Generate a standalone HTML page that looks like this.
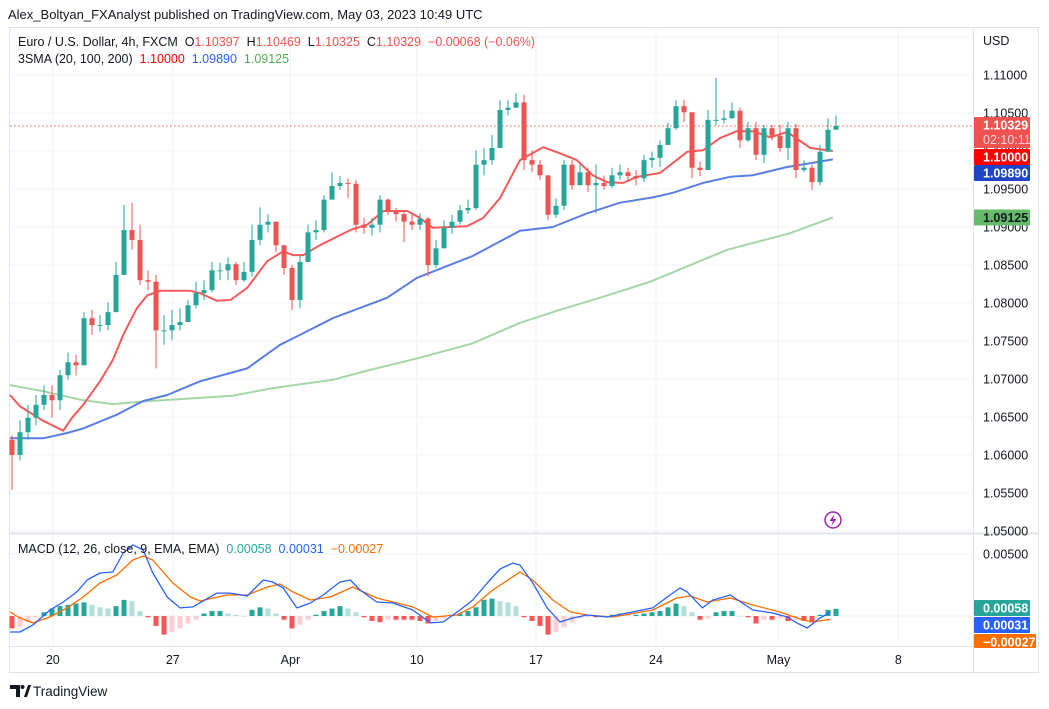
<!DOCTYPE html>
<html><head><meta charset="utf-8"><style>
html,body{margin:0;padding:0;background:#fff;}
svg{display:block;font-family:"Liberation Sans",sans-serif;}
</style></head><body>
<svg id="chart" width="1049" height="709" viewBox="0 0 1049 709" xmlns="http://www.w3.org/2000/svg">
<text x="8" y="19" font-size="13" fill="#131722">Alex_Boltyan_FXAnalyst published on TradingView.com, May 03, 2023 10:49 UTC</text>
<rect x="9.5" y="27.5" width="1029" height="645" fill="#fff" stroke="#e0e3eb"/>
<g id="grid"></g>
<g id="mainPane"></g>
<g id="macdPane"></g>
<line x1="973.5" y1="28" x2="973.5" y2="672" stroke="#e0e3eb"/>
<line x1="10" y1="533.5" x2="1038" y2="533.5" stroke="#e0e3eb" stroke-width="2"/>
<line x1="10" y1="646.5" x2="1038" y2="646.5" stroke="#e0e3eb"/>
<g id="axes" font-size="12.5" fill="#131722"></g>
<text x="18" y="46" font-size="12.5" fill="#131722">Euro / U.S. Dollar, 4h, FXCM&#160;&#160;<tspan>O</tspan><tspan fill="#ef5350">1.10397</tspan>&#160;&#160;<tspan>H</tspan><tspan fill="#ef5350">1.10469</tspan>&#160;&#160;<tspan>L</tspan><tspan fill="#ef5350">1.10325</tspan>&#160;&#160;<tspan>C</tspan><tspan fill="#ef5350">1.10329</tspan>&#160;&#160;<tspan fill="#ef5350">−0.00068 (−0.06%)</tspan></text>
<text x="18" y="63" font-size="12.5" fill="#131722">3SMA (20, 100, 200)&#160;&#160;<tspan fill="#ff0000">1.10000</tspan>&#160;&#160;<tspan fill="#2962ff">1.09890</tspan>&#160;&#160;<tspan fill="#4caf50">1.09125</tspan></text>
<text x="18" y="553" font-size="12.5" fill="#131722">MACD (12, 26, close, 9, EMA, EMA)&#160;&#160;<tspan fill="#26a69a">0.00058</tspan>&#160;&#160;<tspan fill="#2962ff">0.00031</tspan>&#160;&#160;<tspan fill="#ff6d00">−0.00027</tspan></text>
<g><circle cx="833" cy="520" r="8" fill="none" stroke="#9c27b0" stroke-width="1.5"/><path d="M834.5 514 L829.5 521 H833 L831.5 526 L836.5 519 H833 Z" fill="#9c27b0"/></g>
<g><path d="M10 685 H20 V697 H16 V689 H10 Z" fill="#131722"/><circle cx="22.5" cy="687" r="2" fill="#131722"/><path d="M24 697 L28 685 H31 L27 697 Z" fill="#131722"/><text x="33" y="696" font-size="13.5" fill="#131722">TradingView</text></g>
</svg>
<script>
// ---- data ----
const closes=[1.0600,1.0630,1.0649,1.0666,1.0679,1.0672,1.0705,1.0722,1.0718,1.0780,1.0771,1.0771,1.0788,1.0837,1.0896,1.0883,1.0830,1.0828,1.0764,1.0764,1.0771,1.0775,1.0797,1.0813,1.0817,1.0843,1.0843,1.0851,1.0830,1.0841,1.0883,1.0903,1.0907,1.0876,1.0846,1.0804,1.0854,1.0893,1.0896,1.0936,1.0954,1.0958,1.0957,1.0903,1.0899,1.0903,1.0936,1.0920,1.0917,1.0907,1.0903,1.0911,1.0850,1.0872,1.0899,1.0907,1.0922,1.0925,1.0982,1.0988,1.1004,1.1054,1.1057,1.1064,1.0988,1.0982,1.0968,1.0916,1.0928,1.0982,1.0955,1.0972,1.0955,1.0958,1.0954,1.0968,1.0972,1.0967,1.0964,1.0988,1.0991,1.1008,1.1030,1.1059,1.1051,1.0978,1.0975,1.1041,1.1041,1.1043,1.1053,1.1014,1.1030,1.0995,1.1030,1.1020,1.1004,1.1030,1.0975,1.0978,1.0959,1.0999,1.1028,1.10329];
const firstOpen=1.0620;
const highs=[1.0626,1.0646,1.0666,1.0679,1.0692,1.0692,1.0712,1.0735,1.0732,1.0788,1.0791,1.0784,1.0801,1.0854,1.0929,1.0932,1.0903,1.0843,1.0837,1.0784,1.0791,1.0793,1.0804,1.0828,1.0830,1.0854,1.0853,1.0860,1.0854,1.0854,1.0903,1.0926,1.0917,1.0907,1.0876,1.0850,1.0863,1.0903,1.0909,1.0942,1.0972,1.0967,1.0964,1.0962,1.0912,1.0912,1.0942,1.0938,1.0925,1.0922,1.0916,1.0918,1.0913,1.0883,1.0909,1.0916,1.0929,1.0936,1.1001,1.1004,1.1021,1.1067,1.1067,1.1076,1.1074,1.1001,1.0988,1.0968,1.0938,1.0988,1.0988,1.0982,1.0978,1.0982,1.0968,1.0978,1.0982,1.0978,1.0975,1.0995,1.0999,1.1014,1.1037,1.1067,1.1067,1.1047,1.0986,1.1054,1.1096,1.1054,1.1064,1.1057,1.1038,1.1038,1.1034,1.1034,1.1034,1.1038,1.1036,1.0988,1.0982,1.1008,1.1043,1.1047];
const lows=[1.0554,1.0593,1.0620,1.0639,1.0659,1.0649,1.0659,1.0699,1.0705,1.0725,1.0758,1.0762,1.0764,1.0791,1.0854,1.0870,1.0824,1.0817,1.0714,1.0745,1.0751,1.0764,1.0780,1.0793,1.0804,1.0814,1.0830,1.0830,1.0824,1.0828,1.0835,1.0876,1.0893,1.0867,1.0837,1.0791,1.0793,1.0854,1.0883,1.0893,1.0936,1.0949,1.0938,1.0893,1.0891,1.0889,1.0893,1.0916,1.0907,1.0880,1.0896,1.0896,1.0835,1.0846,1.0880,1.0891,1.0903,1.0917,1.0922,1.0968,1.0982,1.1014,1.1047,1.1057,1.0975,1.0972,1.0962,1.0909,1.0912,1.0922,1.0949,1.0962,1.0946,1.0918,1.0949,1.0951,1.0962,1.0959,1.0955,1.0959,1.0978,1.0979,1.1008,1.1028,1.1038,1.0964,1.0967,1.0975,1.1034,1.1036,1.1043,1.1004,1.1012,1.0988,1.0984,1.1014,1.0999,1.0988,1.0964,1.0972,1.0949,1.0955,1.1017,1.1032];
const sma20Bars=[-0.25,1,3.9,6.4,7.5,8.9,11,12.6,13.9,15.6,16.9,18.5,22.3,23.5,25.6,27.3,29.4,31.9,33.9,35.1,36.4,38.5,42.3,44.4,46.4,49.4,51,52.6,56.9,58.9,61,63.5,66.4,68.5,70.6,72.6,74.4,76.4,78.1,81,84.4,86.4,88.5,90.6,92.6,94.8,96.9,99.8,102.6];
const sma20=[1.0679,1.0664,1.0645,1.0632,1.0649,1.0666,1.0697,1.0725,1.0758,1.0793,1.0810,1.0816,1.0816,1.0813,1.0803,1.0804,1.0820,1.0855,1.0868,1.0863,1.0863,1.0876,1.0896,1.0903,1.0921,1.0921,1.0912,1.0899,1.0901,1.0912,1.0938,1.0988,1.1005,1.0997,1.0988,1.0968,1.0959,1.0958,1.0966,1.0971,1.0999,1.1001,1.1017,1.1026,1.1026,1.1018,1.1025,1.1004,1.1000];
const sma100Bars=[-0.25,3.9,6.9,8.9,13.1,16.4,19.4,23.5,29.4,33.5,36,40.1,46.9,50.6,57.6,63.5,67.6,71.9,76,80.1,82.6,86.4,89.8,92.6,96.9,101,102.6];
const sma100=[1.0622,1.0622,1.0629,1.0635,1.0653,1.0671,1.0679,1.0697,1.0714,1.0745,1.0758,1.0780,1.0807,1.0833,1.0862,1.0895,1.0900,1.0918,1.0932,1.0939,1.0945,1.0958,1.0966,1.0968,1.0979,1.0986,1.0989];
const sma200Bars=[-0.25,3.9,8.9,12.6,17.3,27.6,32.6,40.1,44.4,51,57.6,63.5,68.5,73.5,79.8,86.4,89.4,97.3,102.6];
const sma200=[1.0692,1.0684,1.0672,1.0667,1.0671,1.0678,1.0688,1.0699,1.0711,1.0728,1.0747,1.0774,1.0791,1.0807,1.0828,1.0857,1.0870,1.0892,1.09125];
const macdBars=[-0.25,1,2.6,4.75,6.4,8.1,9.4,11,12.6,13.9,15.1,16.4,17.6,19.4,21,22.6,25.6,27.3,29.4,31.4,32.6,33.9,35.6,37.3,38.9,41,42.3,43.5,45.6,47.6,50.1,52.3,53.9,56,57.6,59.4,61,62.6,63.5,65.1,66.9,68.5,70.1,71.9,74.4,76.9,80.1,81.9,83.5,84.4,86.3,87.6,89.8,92.6,95.1,96.9,98.1,99.4,101,102.3];
const macdLine=[-0.00129,-0.00129,-0.00073,0.00048,0.00113,0.00194,0.0029,0.00347,0.00355,0.00508,0.00573,0.00532,0.00347,0.00153,0.00065,0.00073,0.00185,0.00185,0.00161,0.0029,0.00274,0.00226,0.00065,0.00105,0.00169,0.00274,0.0029,0.0021,0.00113,0.00105,0.00048,-0.00056,-0.00048,0.00048,0.00129,0.00266,0.00379,0.00427,0.00411,0.00266,0.00065,-0.00048,-0.00016,0.00008,-0.00008,0.00024,0.00065,0.00153,0.00226,0.00194,0.00065,0.00129,0.00169,0.00048,0.00024,-0.00008,-0.00056,-0.00097,-0.00016,0.00031];
const signalBars=[-0.25,1,2.6,4.75,6.9,8.9,11,13.1,15.1,16.4,17.6,20.1,22.3,23.5,26.9,29.4,31.9,33.5,35.1,37.3,39.8,42.6,45.6,50.1,52.6,55.6,57.6,60.1,63.5,65.1,67.6,69.8,71.9,75.1,80.1,83.1,84.8,86.9,89.8,92.6,96,98.9,100.1,102.3];
const signalLine=[0.00032,-0.00016,-0.00056,-0.00008,0.00065,0.00153,0.00266,0.00331,0.00452,0.00484,0.00452,0.00266,0.00153,0.00121,0.00169,0.00169,0.00234,0.00258,0.00194,0.00129,0.00153,0.00234,0.00145,0.00073,-0.00008,0.00008,0.00073,0.0021,0.00355,0.0029,0.00129,0.00032,0.00008,-0.00008,0.00048,0.00145,0.00161,0.00113,0.00145,0.00089,0.00032,-0.00032,-0.00048,-0.00027];
const histogram=[-0.0010,-0.0009,-0.0005,-0.0001,0.0003,0.0006,0.0008,0.0009,0.0010,0.0011,0.0009,0.0007,0.0006,0.0008,0.0013,0.0012,0.0004,-0.0001,-0.0008,-0.0015,-0.0013,-0.0010,-0.0006,-0.0003,0.0002,0.0004,0.0004,0.0002,0.0001,0,0.0005,0.0007,0.0006,0.0002,-0.0003,-0.0010,-0.0007,-0.0003,0.0001,0.0004,0.0006,0.0008,0.0006,0.0003,-0.0001,-0.0004,-0.0005,-0.0003,-0.0003,-0.0003,-0.0003,-0.0004,-0.0006,-0.0004,-0.0002,0.0001,0.0002,0.0004,0.0007,0.0013,0.0014,0.0012,0.0011,0.0008,-0.0001,-0.0004,-0.0008,-0.0015,-0.0013,-0.0009,-0.0005,-0.0002,-0.0001,-0.0001,0,0.0001,0.0002,0.0001,0.0001,0.0002,0.0003,0.0004,0.0007,0.0010,0.0008,0.0003,-0.0003,-0.0002,0.0003,0.0004,0.0004,0,-0.0001,-0.0006,-0.0003,-0.0003,-0.0002,-0.0004,-0.0003,-0.0004,-0.0005,0.0001,0.0005,0.00058];
const priceTicks=[1.05,1.055,1.06,1.065,1.07,1.075,1.08,1.085,1.09,1.095,1.10,1.105,1.11];
const macdTicks=[0.005];
const timeLabels=["20","27","Apr","10","17","24","May","8"];
const timeLabelBars=[5.1,20.1,34.8,50.6,65.5,80.5,95.8,110.8];

// ---- scales ----
const NS="http://www.w3.org/2000/svg";
const X=i=>12+i*8;
const YP=p=>75+(1.11-p)*7600;
const YM=v=>616-v*12400;
function mk(tag,attrs,parent){const e=document.createElementNS(NS,tag);for(const k in attrs)e.setAttribute(k,attrs[k]);parent.appendChild(e);return e;}
const grid=document.getElementById('grid'),main=document.getElementById('mainPane'),mp=document.getElementById('macdPane'),axes=document.getElementById('axes');

// grid
priceTicks.concat([1.115]).forEach(p=>{const g=mk('line',{x1:10,x2:973,y1:YP(p),y2:YP(p),stroke:'#f0f3fa'},grid);

});
[0.005,0].forEach(v=>{const g=mk('line',{x1:10,x2:973,y1:YM(v),y2:YM(v),stroke:'#f0f3fa'},grid);

});
timeLabelBars.forEach(b=>{const g=mk('line',{x1:X(b),x2:X(b),y1:28,y2:646,stroke:'#f0f3fa'},grid);

});

// axes labels
priceTicks.forEach(p=>{const t=mk('text',{x:983,y:YP(p)+4.5},axes);t.textContent=p.toFixed(5);

});
const usd=mk('text',{x:983,y:45},axes);usd.textContent='USD';


macdTicks.forEach(v=>{const t=mk('text',{x:983,y:YM(v)+4.5},axes);t.textContent=v.toFixed(5);

});
timeLabels.forEach((l,k)=>{const t=mk('text',{x:X(timeLabelBars[k]),y:664,'text-anchor':'middle'},axes);t.textContent=l;

});

// last price dotted line
const lp=closes[closes.length-1];
const dl=mk('line',{x1:10,x2:973,y1:YP(lp),y2:YP(lp),stroke:'#ef5350','stroke-dasharray':'1.5 2.5'},main);



// smas
function line(bars,vals,ys,color,w,parent,name){const d=vals.map((v,k)=>(k?'L':'M')+X(bars[k]).toFixed(1)+' '+ys(v).toFixed(1)).join(' ');
const p=mk('path',{d:d,fill:'none',stroke:color,'stroke-width':w,'stroke-linejoin':'round'},parent);

}
line(sma200Bars,sma200,YP,'#a5d6a7',2,main,'sma-200-line');
line(sma100Bars,sma100,YP,'#5b7ee5',2,main,'sma-100-line');
line(sma20Bars,sma20,YP,'#f55a5a',2,main,'sma-20-line');

// candles
closes.forEach((c,i)=>{const o=i?closes[i-1]:firstOpen;const h=Math.max(highs[i]??c,o,c),l=Math.min(lows[i]??c,o,c);
const col=c>=o?'#26a69a':'#ef5350';const x=X(i);
const w=mk('line',{x1:x,x2:x,y1:YP(h),y2:YP(l),stroke:col,'stroke-width':1},main);


const top=YP(Math.max(o,c));const ht=Math.max(1,Math.abs(YP(o)-YP(c)));
const b=mk('rect',{x:x-2.5,y:top,width:5,height:ht,fill:col},main);

});

// histogram
histogram.forEach((v,i)=>{const prev=i?histogram[i-1]:0;let col;
if(v>=0)col=v>=prev?'#26a69a':'#b2dfdb';else col=v<=prev?'#ff5252':'#ffcdd2';
const y0=YM(0),y1=YM(v);
const r=mk('rect',{x:X(i)-2.5,y:Math.min(y0,y1),width:5,height:Math.max(0.5,Math.abs(y1-y0)),fill:col},mp);

});
line(signalBars,signalLine,YM,'#ff6d00',1.3,mp,'macd-signal-line');
line(macdBars,macdLine,YM,'#2962ff',1.3,mp,'macd-line');

// axis value badges (stacked to avoid overlap like the reference)
function badge(y,h,w,col,txt,name,txt2,col2){const g=mk('g',{},axes);


mk('rect',{x:974,y:y,width:w,height:h,fill:col,rx:1},g);
const t=mk('text',{x:983,y:y+12.5,fill:col2||'#fff','font-weight':'bold','font-size':'12.5'},g);t.textContent=txt;
if(txt2){const t2=mk('text',{x:983,y:y+27,fill:'#ffd5d5','font-size':'12.5'},g);t2.textContent=txt2;}}
badge(117,31,56,'#ef5350',lp.toFixed(5),'last-price-badge','02:10:11');
badge(149,16,56,'#ff0000',sma20[sma20.length-1].toFixed(5),'sma-20-badge');
badge(165,16,56,'#1e44c8',sma100[sma100.length-1].toFixed(5),'sma-100-badge');
badge(YP(sma200[sma200.length-1])-8,16,56,'#66bb6a',sma200[sma200.length-1].toFixed(5),'sma-200-badge',null,'#131722');
badge(600,16,56,'#26a69a',histogram[histogram.length-1].toFixed(5),'histogram-badge');
badge(617,16,56,'#2962ff',macdLine[macdLine.length-1].toFixed(5),'macd-badge');
badge(634,14,62,'#ff6d00','−'+Math.abs(signalLine[signalLine.length-1]).toFixed(5),'signal-badge');
</script>
</body></html>
